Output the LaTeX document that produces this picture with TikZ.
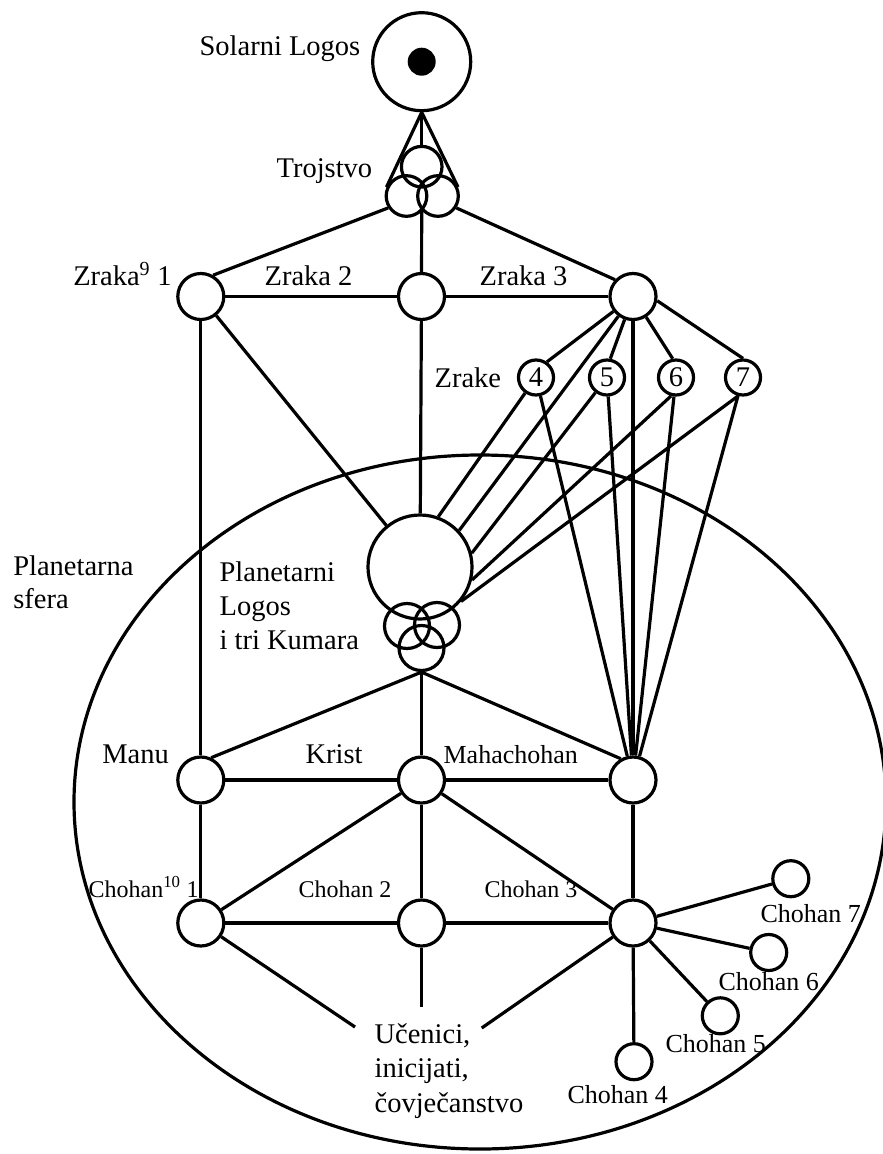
\documentclass[tikz,border=0pt]{standalone}
\usepackage{fontspec}
\setmainfont{Liberation Serif}
\begin{document}
\begin{tikzpicture}[x=1pt,y=-1pt,line width=3.2pt,
  circ/.style={circle,draw,inner sep=0pt,minimum size=#1},
  lbl/.style={anchor=base west,inner sep=0pt,font=\fontsize{28.5}{34.5}\selectfont},
  slbl/.style={anchor=base west,inner sep=0pt,font=\fontsize{24}{28}\selectfont},
  mlbl/.style={anchor=base west,inner sep=0pt,font=\fontsize{26}{30}\selectfont},
  num/.style={circle,draw,inner sep=0pt,minimum size=35pt,font=\fontsize{28.5}{34}\selectfont}]
\useasboundingbox (0,0) rectangle (883,1154);

% planetary sphere
\draw (480,802) ellipse [x radius=406pt, y radius=347pt];

% Solar Logos
\node[circ=98pt] (S) at (421.7,61.7) {};
\node[circle,fill,inner sep=0pt,minimum size=28pt] (Sdot) at (421.7,61.7) {};
% Trinity
\node[circ=40.6pt] (T1) at (421.7,166.7) {};
\node[circ=40.6pt] (T2) at (406.5,196) {};
\node[circ=40.6pt] (T3) at (438,196) {};
\coordinate (tj) at (421.7,209);

% rays
\node[circ=46pt] (Z1) at (200.8,296.5) {};
\node[circ=46pt] (Z2) at (421.5,296.5) {};
\node[circ=46pt] (Z3) at (633,296.5) {};
\node[num] (c4) at (536,377.5) {4};
\node[num] (c5) at (607,377.5) {5};
\node[num] (c6) at (676,377.5) {6};
\node[num] (c7) at (743,377.5) {7};

% Planetary Logos and three Kumaras
\node[circ=104pt] (PL) at (420,567) {};
\node[circ=45pt] (L1) at (407,626) {};
\node[circ=45pt] (L2) at (437,625) {};
\node[circ=45pt] (L3) at (421.5,648) {};

% Manu row
\node[circ=46pt] (M) at (200.8,780) {};
\node[circ=46pt] (K) at (421.5,780) {};
\node[circ=46pt] (R) at (633,780) {};
% Chohan row
\node[circ=46pt] (C1) at (200.8,923) {};
\node[circ=46pt] (C2) at (421.5,923) {};
\node[circ=46pt] (C3) at (633,923) {};
\node[circ=36pt] (H7) at (790.8,878.7) {};
\node[circ=36pt] (H6) at (768.7,952.5) {};
\node[circ=36pt] (H5) at (720.3,1015.8) {};
\node[circ=36pt] (H4) at (634,1061.7) {};

\coordinate (u1) at (355,1027);
\coordinate (u2) at (421.5,1007);
\coordinate (u3) at (481.7,1028);

% connectors
\draw (S) -- (T1);
\draw (S.south) -- (T2.156);
\draw (S.south) -- (T3.24);
\draw (T2.213) -- (Z1.60);
\draw (T3.-33) -- (Z3.137);
\draw (tj) -- (Z2);
\draw (Z1) -- (Z2);
\draw (Z2) -- (Z3);
\draw (Z2) -- (PL);
\draw (Z1) -- (PL);
\draw (Z1) -- (M);
\draw (Z3) -- (c4.55);
\draw (Z3) -- (PL.43);
\draw (Z3) -- (c5.80);
\draw (Z3) -- (R);
\draw (Z3) -- (c6.100);
\draw (Z3.-10) -- (c7.north);
\draw (c4) -- (PL.70);
\draw (c5) -- (PL.15);
\draw (c6.255) -- (PL.-14);
\draw (c7.255) -- (PL.-40);
\draw (c4) -- (R);
\draw (c5) -- (R);
\draw (c6) -- (R);
\draw (c7) -- (R);
\draw (L3.south) -- (M.65);
\draw (L3.south) -- (K);
\draw (L3.south) -- (R.120);
\draw (M) -- (K);
\draw (K) -- (R);
\draw (M) -- (C1);
\draw (K) -- (C2);
\draw (R) -- (C3);
\draw (K) -- (C1);
\draw (K) -- (C3);
\draw (C1) -- (C2);
\draw (C2) -- (C3);
\draw (C1) -- (u1);
\draw (C2) -- (u2);
\draw (C3) -- (u3);
\draw (C3) -- (H7);
\draw (C3) -- (H6);
\draw (C3) -- (H5);
\draw (C3) -- (H4);

% labels
\node[lbl] (tSolar) at (198,55) {Solarni Logos};
\node[lbl] (tTroj) at (275,177) {Trojstvo};
\node[lbl] (tZ1) at (71.7,285) {Zraka\textsuperscript{9} 1};
\node[lbl] (tZ2) at (263,285) {Zraka 2};
\node[lbl] (tZ3) at (478,285) {Zraka 3};
\node[lbl] (tZrake) at (433,387) {Zrake};
\node[lbl] (tPS) at (11.7,575) {\parbox[t]{200pt}{\baselineskip=33pt Planetarna\\sfera}};
\node[lbl] (tPL) at (218,581) {\parbox[t]{200pt}{\baselineskip=34pt Planetarni\\Logos\\i tri Kumara}};
\node[lbl] (tManu) at (100.7,763) {Manu};
\node[lbl] (tKrist) at (304,763) {Krist};
\node[mlbl] (tMaha) at (442,763) {Mahachohan};
\node[slbl] (tC1) at (87,897) {Chohan\textsuperscript{10} 1};
\node[slbl] (tC2) at (297,897) {Chohan 2};
\node[slbl] (tC3) at (483,897) {Chohan 3};
\node[mlbl] (tH7) at (759,922) {Chohan 7};
\node[mlbl] (tH6) at (717,990) {Chohan 6};
\node[mlbl] (tH5) at (664,1052) {Chohan 5};
\node[mlbl] (tH4) at (566,1103) {Chohan 4};
\node[lbl] (tU) at (373,1043) {\parbox[t]{200pt}{\baselineskip=34.5pt Učenici,\\inicijati,\\čovječanstvo}};
\end{tikzpicture}
\end{document}
